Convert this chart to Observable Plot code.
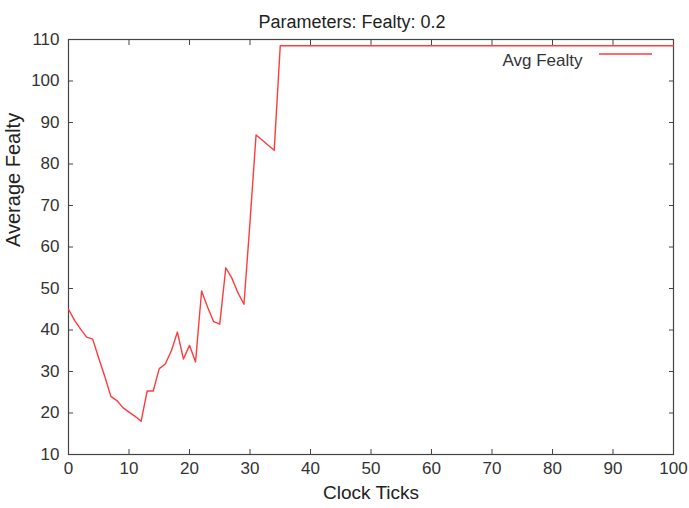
<!DOCTYPE html>
<html><head><meta charset="utf-8">
<script src="https://cdn.jsdelivr.net/npm/d3@7"></script>
<script src="https://cdn.jsdelivr.net/npm/@observablehq/plot@0.6"></script>
<style>body{margin:0;background:#fff}</style>
</head><body><div id="chart"></div>
<script>
const title = "Parameters: Fealty: 0.2";
const xLabel = "Clock Ticks";
const yLabel = "Average Fealty";
const seriesName = "Avg Fealty";
const xTicks = [0, 10, 20, 30, 40, 50, 60, 70, 80, 90, 100];
const yTicks = [10, 20, 30, 40, 50, 60, 70, 80, 90, 100, 110];
const clockTicks = [
  0, 1, 2, 3, 4, 5, 6, 7, 8, 9, 10, 11, 12, 13, 14, 15, 16, 17, 18, 19,
  20, 21, 22, 23, 24, 25, 26, 27, 28, 29, 30, 31, 32, 33, 34, 35, 36, 37, 38, 39,
  40, 41, 42, 43, 44, 45, 46, 47, 48, 49, 50, 51, 52, 53, 54, 55, 56, 57, 58, 59,
  60, 61, 62, 63, 64, 65, 66, 67, 68, 69, 70, 71, 72, 73, 74, 75, 76, 77, 78, 79,
  80, 81, 82, 83, 84, 85, 86, 87, 88, 89, 90, 91, 92, 93, 94, 95, 96, 97, 98, 99, 100
];
const avgFealty = [
  45, 42.3, 40.2, 38.3, 37.8, 33.2, 28.8, 24, 23, 21.3, 20.2, 19.2, 18, 25.3, 25.3, 30.7, 31.8, 35, 39.5, 33,
  36.3, 32.3, 49.4, 45.5, 42, 41.4, 55, 52.5, 49, 46.2, 66, 87, 85.8, 84.5, 83.3, 108.5, 108.5, 108.5, 108.5, 108.5,
  108.5, 108.5, 108.5, 108.5, 108.5, 108.5, 108.5, 108.5, 108.5, 108.5, 108.5, 108.5, 108.5, 108.5, 108.5, 108.5, 108.5, 108.5, 108.5, 108.5,
  108.5, 108.5, 108.5, 108.5, 108.5, 108.5, 108.5, 108.5, 108.5, 108.5, 108.5, 108.5, 108.5, 108.5, 108.5, 108.5, 108.5, 108.5, 108.5, 108.5,
  108.5, 108.5, 108.5, 108.5, 108.5, 108.5, 108.5, 108.5, 108.5, 108.5, 108.5, 108.5, 108.5, 108.5, 108.5, 108.5, 108.5, 108.5, 108.5, 108.5, 108.5
];

const data = clockTicks.map((t, i) => ({t, v: avgFealty[i]}));
const lineColor = "#ff3b3b";
const font = "'Liberation Sans', Arial, sans-serif";

const chart = Plot.plot({
  width: 689, height: 508,
  marginLeft: 68, marginRight: 16, marginTop: 39, marginBottom: 54,
  style: {fontFamily: font, fontSize: "17px", color: "#333", background: "#fff", overflow: "visible"},
  x: {domain: [0, 100]},
  y: {domain: [10, 110]},
  marks: [
    Plot.axisX({ticks: xTicks, tickSize: -5, tickPadding: 12, label: null, stroke: "#444"}),
    Plot.axisX({anchor: "top", ticks: xTicks, tickSize: -5, tickFormat: () => "", label: null, stroke: "#444"}),
    Plot.axisY({ticks: yTicks, tickSize: -5, tickPadding: 14, label: null, stroke: "#444"}),
    Plot.axisY({anchor: "right", ticks: yTicks, tickSize: -5, tickFormat: () => "", label: null, stroke: "#444"}),
    Plot.frame({stroke: "#444", strokeWidth: 1.2}),
    Plot.line(data, {x: "t", y: "v", stroke: lineColor, strokeWidth: 1.4}),
    Plot.text([title], {frameAnchor: "top", dy: -24, dx: -19, fontSize: 18, fill: "#222"}),
    Plot.text([xLabel], {frameAnchor: "bottom", dy: 44, fontSize: 19, fill: "#222"}),
    Plot.text([yLabel], {frameAnchor: "left", dx: -55, rotate: -90, fontSize: 20, fill: "#222"}),
    Plot.text([seriesName], {frameAnchor: "top-right", dx: -91, dy: 14, textAnchor: "end", fontSize: 17, fill: "#333"})
  ]
});

const svg = d3.select(chart);
svg.append("line")
  .attr("x1", 599).attr("x2", 652).attr("y1", 54).attr("y2", 54)
  .attr("stroke", lineColor).attr("stroke-width", 1.4);

document.getElementById("chart").appendChild(chart);
</script>
</body></html>
